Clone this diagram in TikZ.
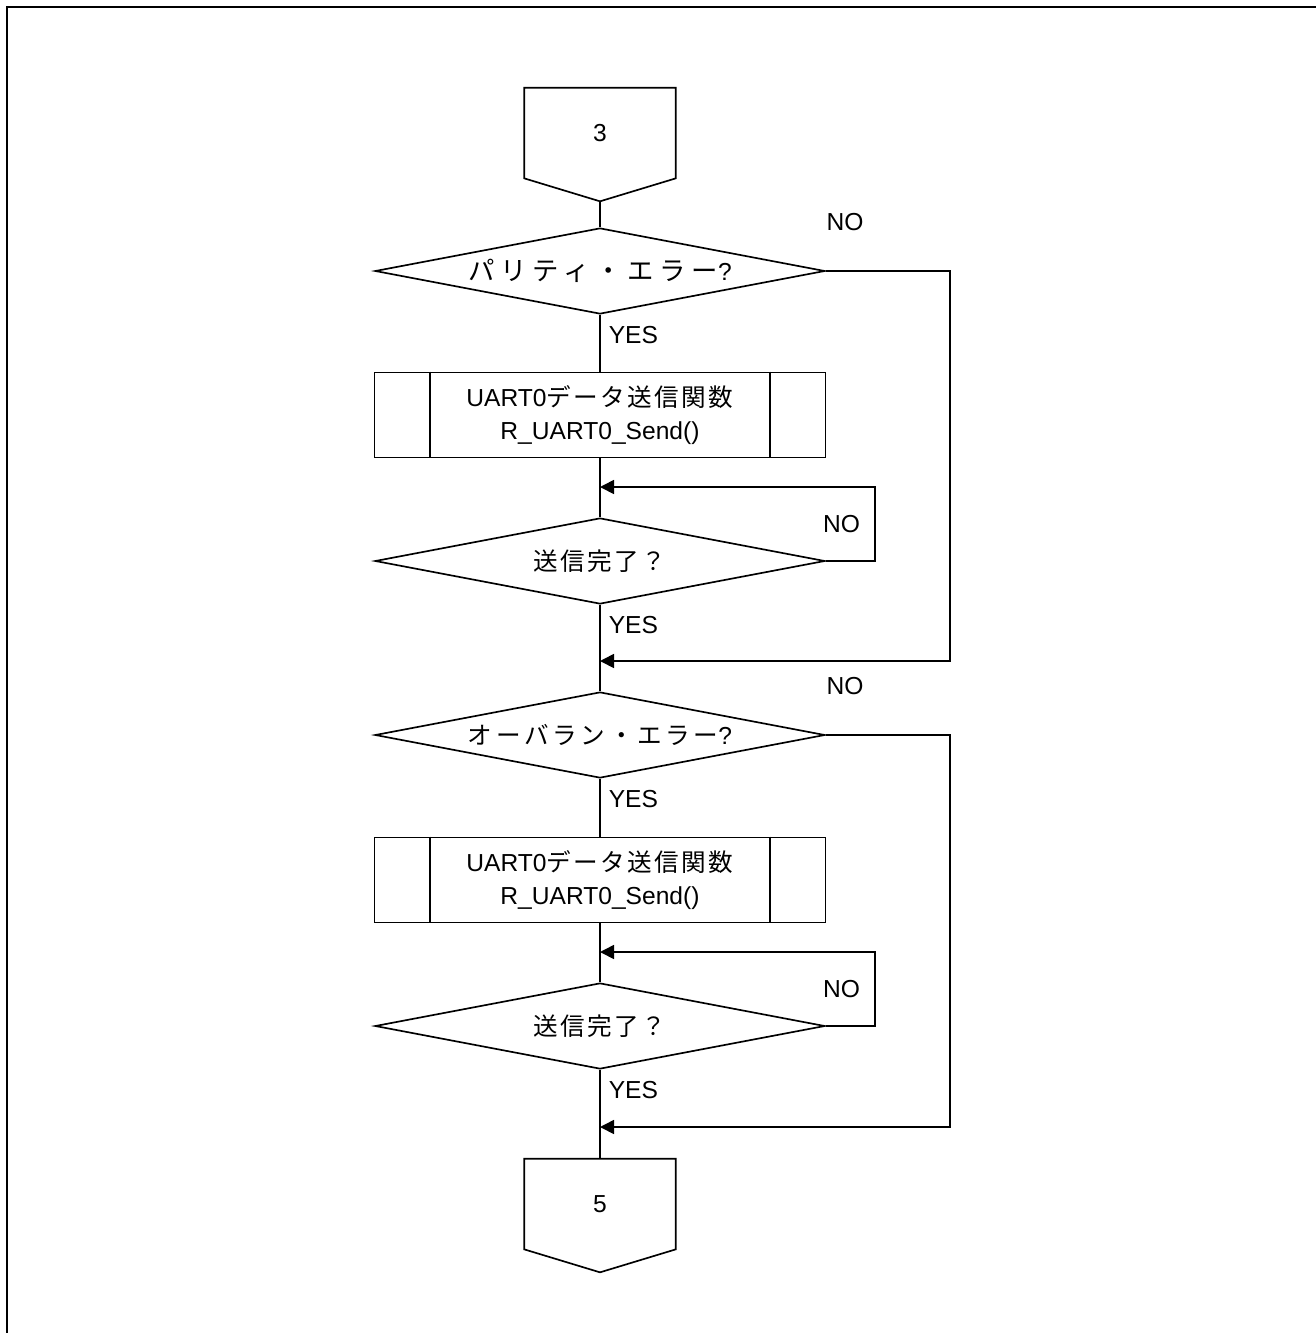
\documentclass[tikz,border=0pt]{standalone}
\usepackage{fontspec}
\setmainfont{Liberation Sans}
\newfontfamily\jp[LetterSpace=10]{Noto Sans CJK JP}
\newfontfamily\jpwide[LetterSpace=22]{Noto Sans CJK JP}
\newfontfamily\jpmid[LetterSpace=15]{Noto Sans CJK JP}
\usetikzlibrary{arrows.meta,calc,positioning,shapes.geometric}

\begin{document}
\begin{tikzpicture}[x=.02cm,y=-.02cm, line width=.95pt,
    every node/.style={font=\fontsize{14}{19}\selectfont},
    decision/.style={diamond,draw,aspect=5.2,minimum width=9cm,minimum height=1.72cm,inner sep=0pt},
    subproc/.style={rectangle,draw,minimum width=9.02cm,minimum height=1.7cm,align=center,inner sep=0pt},
    conn/.style={rectangle,minimum width=3cm,minimum height=1.78cm,inner sep=0pt},
    lbl/.style={inner sep=0pt},
    flow/.style={-{Triangle[length=.28cm,width=.28cm]}}]
  \useasboundingbox (0,0) rectangle (1316,1333);
  \draw[line width=1.5pt] (7,1333) -- (7,7) -- (1316,7);
  % nodes
  \node[conn] (c3) at (600,133) {3};
  \node[decision] (d1) at (600,271) {{\fontsize{15}{19}\jpwide パリティ・エラー}?};
  \node[subproc] (s1) at (600,415) {UART0{\jp データ送信関数}\\R\_UART0\_Send()};
  \node[decision] (d2) at (600,561) {{\jp 送信完了？}};
  \node[decision] (d3) at (600,735) {{\jpmid オーバラン・エラー}?};
  \node[subproc] (s2) at (600,880) {UART0{\jp データ送信関数}\\R\_UART0\_Send()};
  \node[decision] (d4) at (600,1026) {{\jp 送信完了？}};
  \node[conn] (c5) at (600,1204) {5};
  \coordinate (l1) at (600,487);
  \coordinate (m1) at (600,661);
  \coordinate (l2) at (600,952);
  \coordinate (m2) at (600,1127);
  % off-page connectors
  \foreach \c in {c3,c5} {
    \draw (\c.south west) -- (\c.north west) -- (\c.north east) -- (\c.south east)
      -- ($(\c.south)+(0,23)$) coordinate (\c tip) -- cycle;
  }
  \foreach \s in {s1,s2} {
    \draw ($(\s.north west)+(56,0)$) -- ($(\s.south west)+(56,0)$);
    \draw ($(\s.north east)-(56,0)$) -- ($(\s.south east)-(56,0)$);
  }
  % main line
  \draw (c3tip) -- (d1.north);
  \draw (d1.south) -- (s1.north);
  \draw (s1.south) -- (d2.north);
  \draw (d2.south) -- (d3.north);
  \draw (d3.south) -- (s2.north);
  \draw (s2.south) -- (d4.north);
  \draw (d4.south) -- (c5.north);
  % branches
  \draw[flow] (d1.east) -- ++(124,0) |- (m1);
  \draw[flow] (d3.east) -- ++(124,0) |- (m2);
  \draw[flow] (d2.east) -- ++(49,0) |- node[lbl,pos=.25,left=.28cm]{NO} (l1);
  \draw[flow] (d4.east) -- ++(49,0) |- node[lbl,pos=.25,left=.28cm]{NO} (l2);
  \node[lbl, above right=.78cm and 0cm of d1.east] {NO};
  \node[lbl, above right=.78cm and 0cm of d3.east] {NO};
  \foreach \d in {d1,d2,d3,d4} {
    \node[lbl, below right=.22cm and .16cm of \d.south] {YES};
  }
\end{tikzpicture}
\end{document}
